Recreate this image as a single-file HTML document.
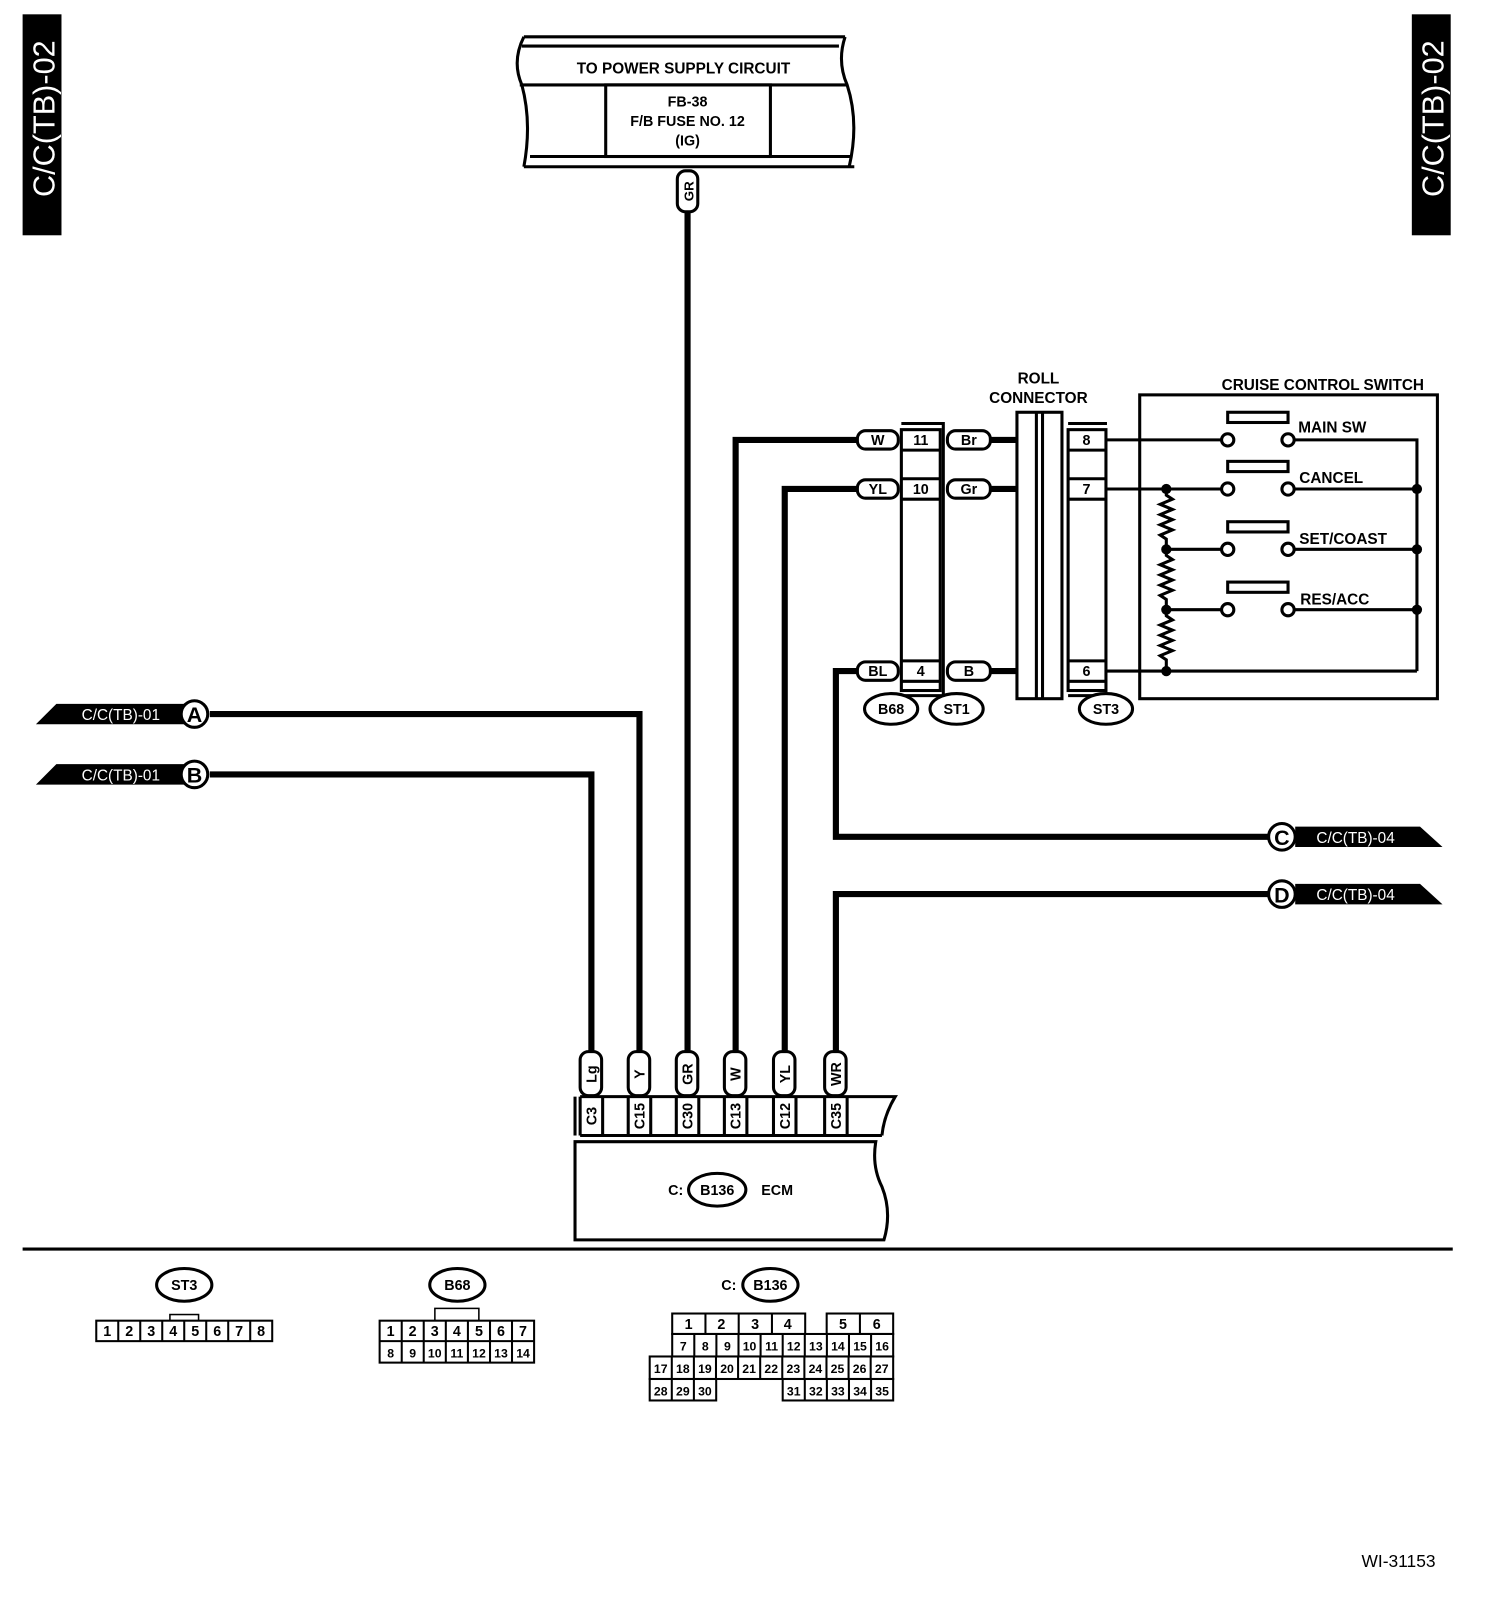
<!DOCTYPE html>
<html><head><meta charset="utf-8"><style>
html,body{margin:0;padding:0;background:#fff;}
svg{display:block;}
text{font-family:"Liberation Sans",sans-serif;font-weight:bold;fill:#000;}
</style></head><body>
<svg width="1504" height="1602" viewBox="0 0 1470 1566" xmlns="http://www.w3.org/2000/svg">
<rect width="1470" height="1566" fill="#fff"/>
<!-- side tabs -->
<rect x="22" y="14" width="38" height="216" fill="#000"/>
<text transform="translate(53,116) rotate(-90)" text-anchor="middle" font-size="30" style="fill:#fff;font-weight:normal">C/C(TB)-02</text>
<rect x="1380" y="14" width="38" height="216" fill="#000"/>
<text transform="translate(1411,116) rotate(-90)" text-anchor="middle" font-size="30" style="fill:#fff;font-weight:normal">C/C(TB)-02</text>

<!-- power supply box -->
<g fill="none" stroke="#000" stroke-width="3">
<line x1="512" y1="36" x2="826" y2="36"/>
<line x1="510" y1="45" x2="820" y2="45"/>
<line x1="508" y1="83" x2="828" y2="83"/>
<line x1="518" y1="153" x2="832" y2="153"/>
<line x1="512" y1="163" x2="835" y2="163"/>
<path d="M512,36 Q500,60 510,83 Q520,120 512,163"/>
<path d="M826,36 Q818,60 828,83 Q840,120 830,163"/>
<rect x="592" y="83" width="161" height="70"/>
</g>
<text x="668" y="72" text-anchor="middle" font-size="15">TO POWER SUPPLY CIRCUIT</text>
<text x="672" y="104" text-anchor="middle" font-size="14">FB-38</text>
<text x="672" y="123" text-anchor="middle" font-size="14">F/B FUSE NO. 12</text>
<text x="672" y="142" text-anchor="middle" font-size="14">(IG)</text>

<!-- thick wires -->
<g fill="none" stroke="#000" stroke-width="6">
<line x1="672" y1="205" x2="672" y2="1030"/>
<polyline points="205,698 625,698 625,1030"/>
<polyline points="205,757 578,757 578,1030"/>
<polyline points="719,1030 719,430 840,430"/>
<polyline points="767,1030 767,478 840,478"/>
<polyline points="840,656 817,656 817,818 1240,818"/>
<polyline points="817,1030 817,874 1240,874"/>
<line x1="968" y1="430" x2="994" y2="430"/>
<line x1="968" y1="478" x2="994" y2="478"/>
<line x1="968" y1="656" x2="994" y2="656"/>
</g>

<!-- GR top pill -->
<rect x="662" y="167" width="20" height="40" rx="8" fill="#fff" stroke="#000" stroke-width="3"/>
<text transform="translate(678,187) rotate(-90)" text-anchor="middle" font-size="13">GR</text>

<!-- horizontal pills -->
<g fill="#fff" stroke="#000" stroke-width="3">
<rect x="838" y="421" width="40" height="18" rx="8"/>
<rect x="838" y="469" width="40" height="18" rx="8"/>
<rect x="838" y="647" width="40" height="18" rx="8"/>
<rect x="926" y="421" width="42" height="18" rx="8"/>
<rect x="926" y="469" width="42" height="18" rx="8"/>
<rect x="926" y="647" width="42" height="18" rx="8"/>
</g>
<g font-size="14" text-anchor="middle">
<text x="858" y="435">W</text><text x="858" y="483">YL</text><text x="858" y="661">BL</text>
<text x="947" y="435">Br</text><text x="947" y="483">Gr</text><text x="947" y="661">B</text>
</g>

<!-- B68 block -->
<g fill="none" stroke="#000" stroke-width="3">
<rect x="881" y="420" width="38" height="255"/>
<polyline points="881,414 922,414 922,680 881,680"/>
<line x1="881" y1="440" x2="919" y2="440"/>
<line x1="881" y1="468" x2="919" y2="468"/>
<line x1="881" y1="488" x2="919" y2="488"/>
<line x1="881" y1="646" x2="919" y2="646"/>
<line x1="881" y1="666" x2="919" y2="666"/>
<!-- roll connector -->
<rect x="994" y="403" width="44" height="280"/>
<line x1="1013" y1="403" x2="1013" y2="683"/>
<line x1="1019" y1="403" x2="1019" y2="683"/>
<!-- ST3 block -->
<rect x="1044" y="420" width="37" height="255"/>
<polyline points="1044,414 1082,414"/>
<polyline points="1044,680 1082,680"/>
<line x1="1044" y1="440" x2="1081" y2="440"/>
<line x1="1044" y1="468" x2="1081" y2="468"/>
<line x1="1044" y1="488" x2="1081" y2="488"/>
<line x1="1044" y1="646" x2="1081" y2="646"/>
<line x1="1044" y1="666" x2="1081" y2="666"/>
</g>
<g font-size="14" text-anchor="middle">
<text x="900" y="435">11</text><text x="900" y="483">10</text><text x="900" y="661">4</text>
<text x="1062" y="435">8</text><text x="1062" y="483">7</text><text x="1062" y="661">6</text>
</g>
<text x="1015" y="375" text-anchor="middle" font-size="15">ROLL</text>
<text x="1015" y="394" text-anchor="middle" font-size="15">CONNECTOR</text>

<!-- ovals -->
<g fill="#fff" stroke="#000" stroke-width="3">
<ellipse cx="871" cy="693" rx="26" ry="15"/>
<ellipse cx="935" cy="693" rx="26" ry="15"/>
<ellipse cx="1081" cy="693" rx="26" ry="15"/>
</g>
<g font-size="14" text-anchor="middle">
<text x="871" y="698">B68</text><text x="935" y="698">ST1</text><text x="1081" y="698">ST3</text>
</g>

<!-- cruise control switch -->
<rect x="1114" y="386" width="291" height="297" fill="none" stroke="#000" stroke-width="3"/>
<text x="1293" y="381" text-anchor="middle" font-size="15">CRUISE CONTROL SWITCH</text>
<g fill="none" stroke="#000" stroke-width="3">
<line x1="1082" y1="430" x2="1194" y2="430"/>
<polyline points="1265,430 1385,430 1385,656"/>
<line x1="1082" y1="478" x2="1194" y2="478"/>
<line x1="1265" y1="478" x2="1385" y2="478"/>
<line x1="1140" y1="537" x2="1194" y2="537"/>
<line x1="1265" y1="537" x2="1385" y2="537"/>
<line x1="1140" y1="596" x2="1194" y2="596"/>
<line x1="1265" y1="596" x2="1385" y2="596"/>
<line x1="1082" y1="656" x2="1385" y2="656"/>
<rect x="1200" y="403" width="59" height="10"/>
<rect x="1200" y="451" width="59" height="10"/>
<rect x="1200" y="510" width="59" height="10"/>
<rect x="1200" y="569" width="59" height="10"/>
<circle cx="1200" cy="430" r="6"/><circle cx="1259" cy="430" r="6"/>
<circle cx="1200" cy="478" r="6"/><circle cx="1259" cy="478" r="6"/>
<circle cx="1200" cy="537" r="6"/><circle cx="1259" cy="537" r="6"/>
<circle cx="1200" cy="596" r="6"/><circle cx="1259" cy="596" r="6"/>
<path d="M1140,478 l0,6 l6,4 l-12,5 l12,5 l-12,5 l12,5 l-12,5 l12,5 l-12,5 l6,4 l0,10"/>
<path d="M1140,537 l0,6 l6,4 l-12,5 l12,5 l-12,5 l12,5 l-12,5 l12,5 l-12,5 l6,4 l0,10"/>
<path d="M1140,596 l0,6 l6,4 l-12,5 l12,5 l-12,5 l12,5 l-12,5 l12,5 l-12,5 l6,4 l0,11"/>
</g>
<g fill="#000">
<circle cx="1140" cy="478" r="5"/><circle cx="1140" cy="537" r="5"/><circle cx="1140" cy="596" r="5"/><circle cx="1140" cy="656" r="5"/>
<circle cx="1385" cy="478" r="5"/><circle cx="1385" cy="537" r="5"/><circle cx="1385" cy="596" r="5"/>
</g>
<g font-size="15">
<text x="1269" y="423">MAIN SW</text><text x="1270" y="472">CANCEL</text>
<text x="1270" y="532">SET/COAST</text><text x="1271" y="591">RES/ACC</text>
</g>

<!-- off-page connectors -->
<polygon points="55,688 185,688 185,708 35,708" fill="#000"/>
<text x="118" y="704" text-anchor="middle" font-size="15" style="fill:#fff;font-weight:normal">C/C(TB)-01</text>
<circle cx="190" cy="698" r="13" fill="#fff" stroke="#000" stroke-width="3"/>
<text x="190" y="706" text-anchor="middle" font-size="21">A</text>
<polygon points="55,747 185,747 185,767 35,767" fill="#000"/>
<text x="118" y="763" text-anchor="middle" font-size="15" style="fill:#fff;font-weight:normal">C/C(TB)-01</text>
<circle cx="190" cy="757" r="13" fill="#fff" stroke="#000" stroke-width="3"/>
<text x="190" y="765" text-anchor="middle" font-size="21">B</text>

<polygon points="1266,808 1388,808 1410,828 1266,828" fill="#000"/>
<text x="1325" y="824" text-anchor="middle" font-size="15" style="fill:#fff;font-weight:normal">C/C(TB)-04</text>
<circle cx="1253" cy="818" r="13" fill="#fff" stroke="#000" stroke-width="3"/>
<text x="1253" y="826" text-anchor="middle" font-size="21">C</text>
<polygon points="1266,864 1388,864 1410,884 1266,884" fill="#000"/>
<text x="1325" y="880" text-anchor="middle" font-size="15" style="fill:#fff;font-weight:normal">C/C(TB)-04</text>
<circle cx="1253" cy="874" r="13" fill="#fff" stroke="#000" stroke-width="3"/>
<text x="1253" y="882" text-anchor="middle" font-size="21">D</text>

<!-- ECM pills -->
<g fill="#fff" stroke="#000" stroke-width="3">
<rect x="567" y="1028" width="21" height="43" rx="8"/>
<rect x="614" y="1028" width="21" height="43" rx="8"/>
<rect x="661" y="1028" width="21" height="43" rx="8"/>
<rect x="708" y="1028" width="21" height="43" rx="8"/>
<rect x="756" y="1028" width="21" height="43" rx="8"/>
<rect x="806" y="1028" width="21" height="43" rx="8"/>
</g>
<g font-size="14" text-anchor="middle">
<text transform="translate(583,1050) rotate(-90)">Lg</text>
<text transform="translate(630,1050) rotate(-90)">Y</text>
<text transform="translate(677,1050) rotate(-90)">GR</text>
<text transform="translate(724,1050) rotate(-90)">W</text>
<text transform="translate(772,1050) rotate(-90)">YL</text>
<text transform="translate(822,1050) rotate(-90)">WR</text>
</g>
<!-- ECM connector strip -->
<g fill="none" stroke="#000" stroke-width="3">
<line x1="562" y1="1072" x2="562" y2="1110"/>
<path d="M567,1072 L875,1072 Q864,1090 862,1110"/>
<line x1="567" y1="1072" x2="567" y2="1110"/>
<line x1="567" y1="1110" x2="862" y2="1110"/>
<line x1="589" y1="1072" x2="589" y2="1110"/>
<line x1="614" y1="1072" x2="614" y2="1110"/><line x1="636" y1="1072" x2="636" y2="1110"/>
<line x1="661" y1="1072" x2="661" y2="1110"/><line x1="683" y1="1072" x2="683" y2="1110"/>
<line x1="708" y1="1072" x2="708" y2="1110"/><line x1="730" y1="1072" x2="730" y2="1110"/>
<line x1="756" y1="1072" x2="756" y2="1110"/><line x1="778" y1="1072" x2="778" y2="1110"/>
<line x1="806" y1="1072" x2="806" y2="1110"/><line x1="828" y1="1072" x2="828" y2="1110"/>
<path d="M562,1116 L856,1116 Q852,1140 862,1160 Q872,1185 864,1212 L562,1212 Z"/>
</g>
<g font-size="14" text-anchor="middle">
<text transform="translate(583,1091) rotate(-90)">C3</text>
<text transform="translate(630,1091) rotate(-90)">C15</text>
<text transform="translate(677,1091) rotate(-90)">C30</text>
<text transform="translate(724,1091) rotate(-90)">C13</text>
<text transform="translate(772,1091) rotate(-90)">C12</text>
<text transform="translate(822,1091) rotate(-90)">C35</text>
</g>
<text x="653" y="1168" font-size="14">C:</text>
<ellipse cx="701" cy="1163" rx="28" ry="16" fill="#fff" stroke="#000" stroke-width="3"/>
<text x="701" y="1168" text-anchor="middle" font-size="14">B136</text>
<text x="744" y="1168" font-size="14">ECM</text>

<line x1="22" y1="1221" x2="1420" y2="1221" stroke="#000" stroke-width="3"/>

<!-- bottom connectors -->
<g fill="#fff" stroke="#000" stroke-width="3">
<ellipse cx="180" cy="1256" rx="27" ry="16"/>
<ellipse cx="447" cy="1256" rx="27" ry="16"/>
<ellipse cx="753" cy="1256" rx="27" ry="16"/>
</g>
<g font-size="14" text-anchor="middle">
<text x="180" y="1261">ST3</text><text x="447" y="1261">B68</text><text x="753" y="1261">B136</text>
</g>
<text x="705" y="1261" font-size="14">C:</text>

<g fill="none" stroke="#000" stroke-width="1.5">
<rect x="166" y="1285" width="28" height="6"/>
<rect x="425" y="1279" width="43" height="12"/>
</g>
<g fill="none" stroke="#000" stroke-width="2">
<rect x="94" y="1291" width="172" height="20"/>
<path d="M115.5,1291v20M137,1291v20M158.5,1291v20M180,1291v20M201.5,1291v20M223,1291v20M244.5,1291v20"/>
<rect x="371" y="1291" width="151" height="41"/>
<path d="M371,1311h151M392.6,1291v41M414.1,1291v41M435.7,1291v41M457.3,1291v41M478.9,1291v41M500.4,1291v41"/>
<rect x="657" y="1284" width="130" height="20"/>
<path d="M689.5,1284v20M722,1284v20M754.5,1284v20"/>
<rect x="808" y="1284" width="65" height="20"/>
<path d="M840.5,1284v20"/>
<rect x="657" y="1304" width="216" height="22"/>
<path d="M678.6,1304v22M700.2,1304v22M721.8,1304v22M743.4,1304v22M765,1304v22M786.6,1304v22M808.2,1304v22M829.8,1304v22M851.4,1304v22"/>
<rect x="635" y="1326" width="238" height="22"/>
<path d="M656.6,1326v22M678.2,1326v22M699.8,1326v22M721.4,1326v22M743,1326v22M764.6,1326v22M786.2,1326v22M807.8,1326v22M829.4,1326v22M851,1326v22"/>
<rect x="635" y="1348" width="65" height="21"/>
<path d="M656.6,1348v21M678.2,1348v21"/>
<rect x="765" y="1348" width="108" height="21"/>
<path d="M786.6,1348v21M808.2,1348v21M829.8,1348v21M851.4,1348v21"/>
</g>
<g font-size="14" text-anchor="middle" style="font-weight:normal">
<text x="104.7" y="1306">1</text><text x="126.2" y="1306">2</text><text x="147.7" y="1306">3</text><text x="169.2" y="1306">4</text><text x="190.7" y="1306">5</text><text x="212.2" y="1306">6</text><text x="233.7" y="1306">7</text><text x="255.2" y="1306">8</text>
<text x="381.8" y="1306">1</text><text x="403.3" y="1306">2</text><text x="424.9" y="1306">3</text><text x="446.5" y="1306">4</text><text x="468.1" y="1306">5</text><text x="489.6" y="1306">6</text><text x="511.2" y="1306">7</text>
<g font-size="12">
<text x="381.8" y="1327">8</text><text x="403.3" y="1327">9</text><text x="424.9" y="1327">10</text><text x="446.5" y="1327">11</text><text x="468.1" y="1327">12</text><text x="489.6" y="1327">13</text><text x="511.2" y="1327">14</text>
</g>
<text x="673" y="1299">1</text><text x="705" y="1299">2</text><text x="738" y="1299">3</text><text x="770" y="1299">4</text>
<text x="824" y="1299">5</text><text x="857" y="1299">6</text>
<g font-size="12">
<text x="667.8" y="1320">7</text><text x="689.4" y="1320">8</text><text x="711" y="1320">9</text><text x="732.6" y="1320">10</text><text x="754.2" y="1320">11</text><text x="775.8" y="1320">12</text><text x="797.4" y="1320">13</text><text x="819" y="1320">14</text><text x="840.6" y="1320">15</text><text x="862.2" y="1320">16</text>
<text x="645.8" y="1342">17</text><text x="667.4" y="1342">18</text><text x="689" y="1342">19</text><text x="710.6" y="1342">20</text><text x="732.2" y="1342">21</text><text x="753.8" y="1342">22</text><text x="775.4" y="1342">23</text><text x="797" y="1342">24</text><text x="818.6" y="1342">25</text><text x="840.2" y="1342">26</text><text x="861.8" y="1342">27</text>
<text x="645.8" y="1364">28</text><text x="667.4" y="1364">29</text><text x="689" y="1364">30</text>
<text x="775.8" y="1364">31</text><text x="797.4" y="1364">32</text><text x="819" y="1364">33</text><text x="840.6" y="1364">34</text><text x="862.2" y="1364">35</text>
</g>
</g>

<text x="1367" y="1532" text-anchor="middle" font-size="17" style="font-weight:normal">WI-31153</text>
</svg>
</body></html>
